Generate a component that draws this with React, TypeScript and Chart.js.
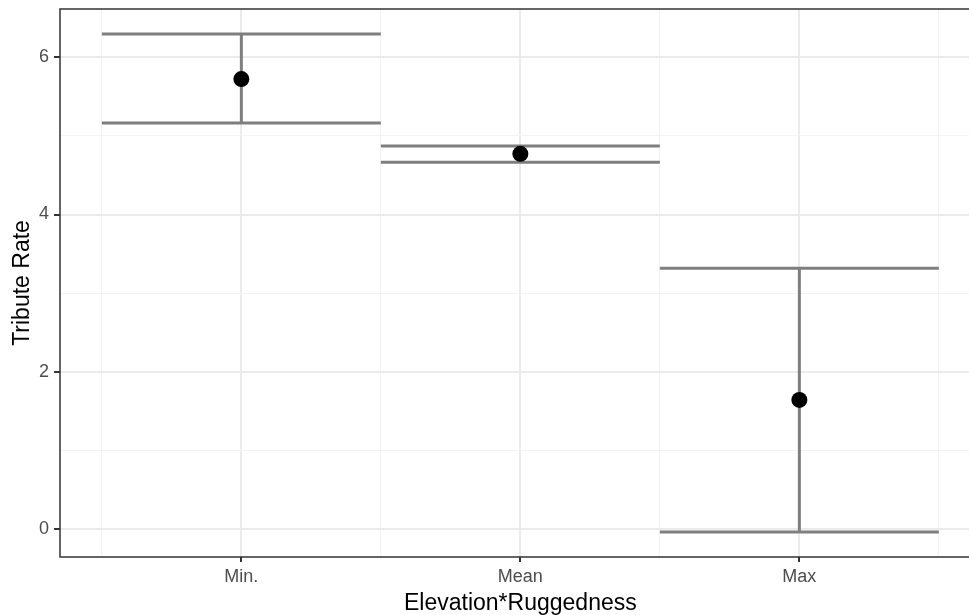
import React, { useEffect, useRef } from "react";
import { Chart, registerables } from "chart.js";

Chart.register(...registerables);

const categories = ["Min.", "Mean", "Max"];
const estimates = [5.725, 4.773, 1.639];
const lowerBounds = [5.164, 4.665, -0.044];
const upperBounds = [6.3, 4.874, 3.316];
const yMajorTicks = [0, 2, 4, 6];
const yAllTicks = [0, 1, 2, 3, 4, 5, 6];
const xTickPositions = [0.5, 1, 1.5, 2, 2.5, 3, 3.5];
const xTitle = "Elevation*Ruggedness";
const yTitle = "Tribute Rate";
// visible x window (the panel is cut off at the right edge of the image)
const X_MIN = 0.35;
const X_MAX = 3.608;
const X_PANEL_CENTER = 2;

const CANVAS_W = 969;
const CANVAS_H = 615;
const FONT = "'Liberation Sans', Arial, sans-serif";

export default function App() {
  const ref = useRef<HTMLCanvasElement | null>(null);

  useEffect(() => {
    if (!ref.current) return;
    const lo = Math.min(...lowerBounds);
    const hi = Math.max(...upperBounds);
    const span = hi - lo;
    const yMin = lo - 0.05 * span;
    const yMax = hi + 0.05 * span;

    const errorBars = {
      id: "errorBars",
      beforeDatasetsDraw(chart: any) {
        const { ctx, scales } = chart;
        const xs = scales.x;
        const ys = scales.y;
        ctx.save();
        ctx.strokeStyle = "#7F7F7F";
        ctx.lineWidth = 3;
        ctx.lineCap = "butt";
        categories.forEach((_, i) => {
          const xc = xs.getPixelForValue(i + 1);
          const xl = xs.getPixelForValue(i + 0.5);
          const xr = xs.getPixelForValue(i + 1.5);
          const yl = ys.getPixelForValue(lowerBounds[i]);
          const yu = ys.getPixelForValue(upperBounds[i]);
          ctx.beginPath();
          ctx.moveTo(xc, yl);
          ctx.lineTo(xc, yu);
          ctx.moveTo(xl, yl);
          ctx.lineTo(xr, yl);
          ctx.moveTo(xl, yu);
          ctx.lineTo(xr, yu);
          ctx.stroke();
        });
        ctx.restore();
      },
      afterDraw(chart: any) {
        const { ctx, scales } = chart;
        const xs = scales.x;
        const ys = scales.y;
        const left = xs.getPixelForValue(xs.min);
        const right = xs.getPixelForValue(xs.max) + 2;
        const top = ys.getPixelForValue(ys.max);
        const bottom = ys.getPixelForValue(ys.min);
        ctx.save();
        ctx.strokeStyle = "#333333";
        ctx.lineWidth = 1.5;
        ctx.beginPath();
        ctx.moveTo(right, top);
        ctx.lineTo(left, top);
        ctx.lineTo(left, bottom);
        ctx.lineTo(right, bottom);
        ctx.stroke();
        // x-axis title centred under the full (uncropped) panel
        ctx.fillStyle = "#000000";
        ctx.font = `23px ${FONT}`;
        ctx.textAlign = "center";
        ctx.textBaseline = "alphabetic";
        ctx.fillText(xTitle, xs.getPixelForValue(X_PANEL_CENTER), 610);
        ctx.restore();
      },
    };

    const isMajorX = (v: number) => Number.isInteger(v);
    const isMajorY = (v: number) => v % 2 === 0;

    const chart = new Chart(ref.current, {
      type: "scatter",
      data: {
        datasets: [
          {
            data: estimates.map((v, i) => ({ x: i + 1, y: v })),
            pointRadius: 8,
            pointHoverRadius: 8,
            backgroundColor: "#000000",
            borderWidth: 0,
          },
        ],
      },
      plugins: [errorBars],
      options: {
        animation: false,
        responsive: false,
        maintainAspectRatio: false,
        layout: { autoPadding: false, padding: { top: 9, right: 0, left: 0, bottom: 0 } },
        plugins: { legend: { display: false }, tooltip: { enabled: false } },
        scales: {
          x: {
            type: "linear",
            min: X_MIN,
            max: X_MAX,
            afterBuildTicks: (scale: any) => {
              scale.ticks = xTickPositions.map((v) => ({ value: v }));
            },
            afterFit: (scale: any) => {
              scale.height = 58;
              scale.paddingLeft = 0;
              scale.paddingRight = 0;
              scale.paddingTop = 0;
              scale.paddingBottom = 0;
            },
            border: { display: false },
            grid: {
              color: (c: any) => (isMajorX(c.tick.value) ? "#EBEBEB" : "#F3F3F3"),
              lineWidth: (c: any) => (isMajorX(c.tick.value) ? 2 : 1),
              tickColor: (c: any) => (isMajorX(c.tick.value) ? "#333333" : "rgba(0,0,0,0)"),
              tickWidth: 2,
              tickLength: 5,
              drawTicks: true,
            },
            ticks: {
              autoSkip: false,
              maxRotation: 0,
              padding: 4,
              color: "#4D4D4D",
              font: { family: FONT, size: 18 },
              callback: (v: any) => (Number.isInteger(v) ? categories[v - 1] : ""),
            },
            title: { display: false },
          },
          y: {
            type: "linear",
            min: yMin,
            max: yMax,
            afterBuildTicks: (scale: any) => {
              scale.ticks = yAllTicks.map((v) => ({ value: v }));
            },
            afterFit: (scale: any) => {
              scale.width = 60;
              scale.paddingLeft = 0;
              scale.paddingRight = 0;
              scale.paddingTop = 0;
              scale.paddingBottom = 0;
            },
            border: { display: false },
            grid: {
              color: (c: any) => (isMajorY(c.tick.value) ? "#EBEBEB" : "#F3F3F3"),
              lineWidth: (c: any) => (isMajorY(c.tick.value) ? 2 : 1),
              tickColor: (c: any) => (isMajorY(c.tick.value) ? "#333333" : "rgba(0,0,0,0)"),
              tickWidth: 2,
              tickLength: 6,
              drawTicks: true,
            },
            ticks: {
              autoSkip: false,
              padding: 5,
              color: "#4D4D4D",
              font: { family: FONT, size: 18 },
              callback: (v: any) => (yMajorTicks.includes(v) ? String(v) : ""),
            },
            title: {
              display: true,
              text: yTitle,
              color: "#000000",
              font: { family: FONT, size: 23 },
              padding: { top: 9, bottom: 0 },
            },
          },
        },
      },
    });
    return () => chart.destroy();
  }, []);

  return (
    <div
      style={{
        position: "fixed",
        left: 0,
        top: 0,
        width: 969,
        height: 615,
        overflow: "hidden",
        background: "#ffffff",
      }}
    >
      <canvas
        ref={ref}
        width={CANVAS_W}
        height={CANVAS_H}
        style={{ display: "block", width: CANVAS_W, height: CANVAS_H }}
      />
    </div>
  );
}
